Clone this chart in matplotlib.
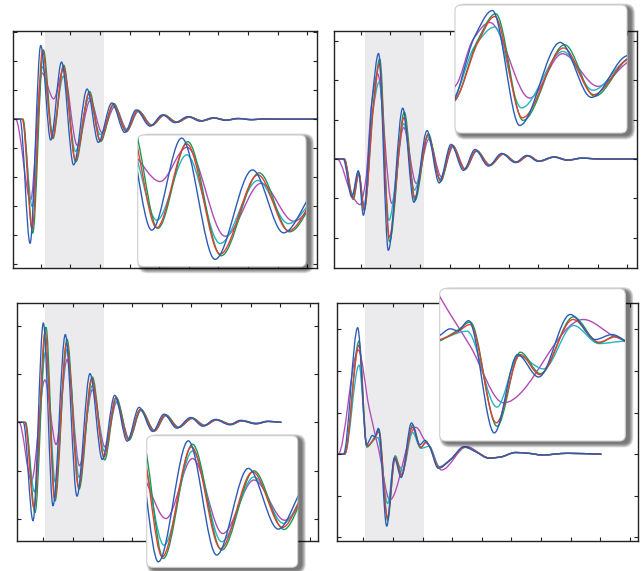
import numpy as np
import matplotlib
matplotlib.use("Agg")
import matplotlib.pyplot as plt
from matplotlib.path import Path
from matplotlib.patches import PathPatch, FancyBboxPatch
from matplotlib.transforms import IdentityTransform

# ---------------- data ----------------
# Panel 1 (top left)
P1_BLUE_X = [0.07, 0.30, 0.64, 1.00, 1.337, 1.703, 2.11, 2.567, 2.946, 3.40, 3.84, 4.22, 4.69, 5.11, 5.53, 5.97, 6.38, 6.81, 7.22, 7.65, 8.10, 8.55, 9.0, 10.35]
P1_BLUE_Y = [0, 0, -4.28, 2.54, -0.72, 1.97, -1.575, 1.04, -0.80, 0.56, -0.46, 0.32, -0.24, 0.15, -0.12, 0.09, -0.07, 0.05, -0.04, 0.03, -0.02, 0.01, 0, 0]
P1_GREEN_X = [0.07, 0.40, 0.73, 1.09, 1.41, 1.777, 2.184, 2.649, 3.02, 3.47, 3.90, 4.28, 4.75, 5.17, 5.60, 6.03, 6.45, 6.87, 7.28, 7.70, 8.15, 8.60, 9.05, 10.35]
P1_GREEN_Y = [0, 0, -3.93, 2.39, -0.67, 1.865, -1.47, 0.954, -0.77, 0.54, -0.43, 0.31, -0.22, 0.15, -0.11, 0.08, -0.06, 0.04, -0.03, 0.02, -0.015, 0.01, 0, 0]
P1_RED_X = [0.07, 0.38, 0.71, 1.06, 1.398, 1.765, 2.172, 2.633, 3.007, 3.45, 3.88, 4.27, 4.73, 5.15, 5.58, 6.01, 6.43, 6.85, 7.26, 7.68, 8.13, 8.58, 9.05, 10.35]
P1_RED_Y = [0, 0, -3.79, 2.37, -0.65, 1.80, -1.42, 0.896, -0.74, 0.52, -0.42, 0.30, -0.22, 0.14, -0.11, 0.08, -0.06, 0.04, -0.03, 0.02, -0.015, 0.01, 0, 0]
P1_CYAN_X = [0.07, 0.38, 0.71, 1.06, 1.398, 1.765, 2.172, 2.633, 3.007, 3.45, 3.88, 4.27, 4.73, 5.15, 5.58, 6.01, 6.43, 6.85, 7.26, 7.68, 8.13, 8.58, 9.05, 10.35]
P1_CYAN_Y = [0, 0, -3.01, 1.81, -0.43, 1.48, -1.11, 0.73, -0.53, 0.45, -0.37, 0.27, -0.20, 0.13, -0.10, 0.07, -0.05, 0.04, -0.03, 0.02, -0.015, 0.01, 0, 0]
P1_PURPLE_X = [0.07, 0.15, 0.66, 1.03, 1.439, 1.765, 2.233, 2.673, 3.069, 3.50, 3.92, 4.30, 4.76, 5.17, 5.60, 6.03, 6.45, 6.87, 7.28, 7.70, 8.15, 8.60, 9.05, 10.35]
P1_PURPLE_Y = [0, 0, -2.78, 1.60, 0.70, 1.70, -0.90, 0.65, -0.46, 0.43, -0.36, 0.27, -0.20, 0.13, -0.10, 0.07, -0.05, 0.04, -0.03, 0.02, -0.015, 0.01, 0, 0]

# Panel 2 (top right)
P2_BLUE_X = [0.09, 0.41, 0.70, 0.92, 1.09, 1.39, 1.603, 1.932, 2.42, 2.796, 3.24, 3.65, 4.05, 4.47, 4.86, 5.31, 5.76, 6.21, 6.61, 6.98, 7.50, 7.95, 8.45, 9.0, 10.35]
P2_BLUE_Y = [0, 0, -0.97, -0.30, -1.43, 1.55, 2.68, -2.32, 1.29, -1.10, 0.72, -0.61, 0.37, -0.29, 0.24, -0.18, 0.14, -0.09, 0.09, -0.06, 0.05, -0.03, 0.02, 0, 0]
P2_GREEN_X = [0.09, 0.45, 0.75, 0.94, 1.12, 1.43, 1.643, 1.972, 2.474, 2.836, 3.28, 3.70, 4.10, 4.52, 4.91, 5.36, 5.81, 6.26, 6.66, 7.03, 7.55, 8.00, 8.50, 9.05, 10.35]
P2_GREEN_Y = [0, 0, -1.03, -0.36, -1.31, 1.41, 2.54, -2.10, 1.19, -1.05, 0.64, -0.57, 0.35, -0.27, 0.22, -0.17, 0.13, -0.09, 0.08, -0.06, 0.05, -0.03, 0.02, 0, 0]
P2_RED_X = [0.09, 0.44, 0.74, 0.94, 1.12, 1.43, 1.631, 1.964, 2.462, 2.824, 3.27, 3.69, 4.09, 4.51, 4.90, 5.35, 5.80, 6.25, 6.65, 7.02, 7.54, 7.99, 8.49, 9.05, 10.35]
P2_RED_Y = [0, 0, -1.00, -0.38, -1.28, 1.30, 2.42, -1.99, 1.05, -0.98, 0.60, -0.54, 0.34, -0.26, 0.21, -0.16, 0.12, -0.09, 0.08, -0.06, 0.05, -0.03, 0.02, 0, 0]
P2_CYAN_X = [0.09, 0.43, 0.72, 0.93, 1.11, 1.39, 1.631, 1.952, 2.454, 2.816, 3.26, 3.68, 4.08, 4.50, 4.89, 5.34, 5.79, 6.24, 6.64, 7.01, 7.53, 7.98, 8.48, 9.05, 10.35]
P2_CYAN_Y = [0, 0, -0.90, -0.35, -1.18, 1.12, 1.96, -1.56, 0.90, -0.79, 0.55, -0.50, 0.33, -0.25, 0.20, -0.15, 0.12, -0.08, 0.08, -0.06, 0.05, -0.03, 0.02, 0, 0]
P2_PURPLE_X = [0.09, 0.20, 0.72, 0.98, 1.169, 1.37, 1.571, 2.053, 2.446, 2.876, 3.30, 3.72, 4.12, 4.53, 4.92, 5.37, 5.82, 6.27, 6.67, 7.04, 7.56, 8.01, 8.51, 9.05, 10.35]
P2_PURPLE_Y = [0, 0, -0.95, -1.16, -0.55, 1.41, 2.16, -1.13, 0.80, -0.62, 0.50, -0.45, 0.31, -0.25, 0.20, -0.15, 0.12, -0.08, 0.08, -0.06, 0.05, -0.03, 0.02, 0, 0]

# Panel 3 (bottom left)
P3_BLUE_X = [0.10, 0.325, 0.651, 1.00, 1.326, 1.742, 2.135, 2.574, 2.99, 3.41, 3.83, 4.23, 4.69, 5.07, 5.50, 5.97, 6.38, 6.79, 7.28, 7.64, 8.15, 8.54, 9.02]
P3_BLUE_Y = [0, 0, -2.04, 2.06, -1.73, 1.82, -1.53, 1.01, -0.77, 0.56, -0.39, 0.31, -0.19, 0.17, -0.12, 0.10, -0.08, 0.06, -0.05, 0.04, -0.03, 0.02, 0]
P3_GREEN_X = [0.10, 0.40, 0.72, 1.09, 1.395, 1.80, 2.205, 2.653, 3.069, 3.46, 3.89, 4.29, 4.75, 5.13, 5.56, 6.03, 6.44, 6.85, 7.34, 7.70, 8.21, 8.60, 9.02]
P3_GREEN_Y = [0, 0, -1.87, 1.97, -1.63, 1.72, -1.385, 0.94, -0.78, 0.52, -0.37, 0.27, -0.18, 0.16, -0.11, 0.09, -0.07, 0.06, -0.05, 0.04, -0.03, 0.02, 0]
P3_RED_X = [0.10, 0.38, 0.685, 1.06, 1.381, 1.787, 2.19, 2.635, 3.05, 3.44, 3.87, 4.27, 4.73, 5.11, 5.54, 6.01, 6.42, 6.83, 7.32, 7.68, 8.19, 8.58, 9.02]
P3_RED_Y = [0, 0, -1.78, 1.88, -1.58, 1.64, -1.34, 0.91, -0.72, 0.50, -0.36, 0.27, -0.18, 0.15, -0.11, 0.09, -0.07, 0.05, -0.04, 0.03, -0.03, 0.02, 0]
P3_CYAN_X = [0.10, 0.38, 0.70, 1.075, 1.404, 1.80, 2.205, 2.653, 3.06, 3.44, 3.87, 4.27, 4.73, 5.11, 5.54, 6.01, 6.42, 6.83, 7.32, 7.68, 8.19, 8.58, 9.02]
P3_CYAN_Y = [0, 0, -1.44, 1.46, -1.24, 1.52, -1.14, 0.76, -0.60, 0.44, -0.33, 0.25, -0.17, 0.14, -0.10, 0.08, -0.06, 0.05, -0.04, 0.03, -0.02, 0.02, 0]
P3_PURPLE_X = [0.10, 0.18, 0.60, 1.05, 1.432, 1.80, 2.22, 2.653, 3.08, 3.48, 3.90, 4.30, 4.76, 5.14, 5.57, 6.04, 6.45, 6.86, 7.35, 7.71, 8.22, 8.61, 9.02]
P3_PURPLE_Y = [0, 0, -1.21, 0.88, -0.46, 1.30, -0.90, 0.67, -0.51, 0.42, -0.34, 0.25, -0.17, 0.14, -0.10, 0.08, -0.06, 0.05, -0.04, 0.03, -0.02, 0.02, 0]

# Panel 4 (bottom right)
P4_BLUE_X = [0.12, 0.33, 0.81, 1.11, 1.19, 1.307, 1.387, 1.508, 1.79, 2.046, 2.277, 2.625, 2.90, 3.083, 3.23, 3.53, 3.93, 4.40, 4.81, 5.22, 5.61, 6.12, 6.57, 7.02, 7.86, 9.02]
P4_BLUE_Y = [0, 0, 3.04, 0.22, 0.31, 0.45, 0.41, 0.62, -1.73, -0.09, -0.56, 0.75, 0.225, 0.33, 0.19, -0.34, -0.14, 0.18, 0.05, -0.10, -0.07, 0.04, 0.02, -0.02, 0.02, 0]
P4_GREEN_X = [0.12, 0.37, 0.855, 1.12, 1.38, 1.526, 1.82, 2.076, 2.296, 2.66, 2.94, 3.12, 3.23, 3.56, 3.95, 4.42, 4.83, 5.24, 5.63, 6.14, 6.59, 7.04, 7.88, 9.02]
P4_GREEN_Y = [0, 0, 2.72, 0.17, 0.41, 0.59, -1.59, -0.04, -0.49, 0.70, 0.155, 0.30, 0.19, -0.32, -0.13, 0.17, 0.05, -0.09, -0.07, 0.04, 0.02, -0.02, 0.02, 0]
P4_RED_X = [0.12, 0.37, 0.855, 1.12, 1.38, 1.526, 1.812, 2.076, 2.29, 2.655, 2.94, 3.12, 3.23, 3.56, 3.95, 4.42, 4.83, 5.24, 5.63, 6.14, 6.59, 7.04, 7.88, 9.02]
P4_RED_Y = [0, 0, 2.62, 0.20, 0.38, 0.54, -1.52, -0.09, -0.51, 0.645, 0.17, 0.28, 0.20, -0.32, -0.13, 0.17, 0.05, -0.09, -0.07, 0.04, 0.02, -0.02, 0.02, 0]
P4_CYAN_X = [0.12, 0.37, 0.855, 1.12, 1.49, 1.82, 2.057, 2.33, 2.66, 2.94, 3.23, 3.56, 3.95, 4.42, 4.83, 5.24, 5.63, 6.14, 6.59, 7.04, 7.88, 9.02]
P4_CYAN_Y = [0, 0, 2.14, 0.20, 0.40, -1.19, -0.12, -0.39, 0.52, 0.14, 0.19, -0.30, -0.12, 0.16, 0.05, -0.09, -0.07, 0.04, 0.02, -0.02, 0.02, 0]
P4_PURPLE_X = [0.12, 0.15, 0.83, 1.19, 1.526, 1.893, 2.77, 3.10, 3.23, 3.64, 4.49, 5.24, 5.63, 6.14, 6.59, 7.04, 7.88, 9.02]
P4_PURPLE_Y = [0, 0, 2.50, 1.13, 0.085, -1.10, 0.645, 0.30, 0.19, -0.38, 0.18, -0.09, -0.07, 0.04, 0.02, -0.02, 0.02, 0]

X_TICKS = [1, 2, 3, 4, 5, 6, 7, 8, 9, 10]
P1_Y_TICKS = [-5, -4, -3, -2, -1, 0, 1, 2, 3]
P2_Y_TICKS = [-2, -1, 0, 1, 2, 3]
P3_Y_TICKS = [-2, -1, 0, 1, 2]
P4_Y_TICKS = [-2, -1, 0, 1, 2, 3]

# ---------------- styling / layout ----------------
W, H = 643, 571
COLORS = {"purple": "#b24ab6", "cyan": "#27b3c1", "green": "#179a55",
          "red": "#e2402c", "blue": "#2b5bb6"}
ORDER = ["purple", "cyan", "green", "red", "blue"]

fig = plt.figure(figsize=(W / 100, H / 100), dpi=100)
fig.patch.set_facecolor("white")


def mono_path(xs, ys):
    x = np.asarray(xs, float)
    y = np.asarray(ys, float)
    h = np.diff(x)
    d = np.diff(y) / h
    m = np.zeros_like(x)
    m[0] = d[0]
    m[-1] = d[-1]
    for i in range(1, len(x) - 1):
        if d[i - 1] * d[i] <= 0:
            m[i] = 0.0
        else:
            w1 = 2 * h[i] + h[i - 1]
            w2 = h[i] + 2 * h[i - 1]
            m[i] = (w1 + w2) / (w1 / d[i - 1] + w2 / d[i])
    verts = [(x[0], y[0])]
    codes = [Path.MOVETO]
    for i in range(len(x) - 1):
        verts += [(x[i] + h[i] / 3, y[i] + m[i] * h[i] / 3),
                  (x[i + 1] - h[i] / 3, y[i + 1] - m[i + 1] * h[i] / 3),
                  (x[i + 1], y[i + 1])]
        codes += [Path.CURVE4] * 3
    return Path(verts, codes)


def px_rect(l, t, r, b):
    return [l / W, 1 - b / H, (r - l) / W, (b - t) / H]


def draw_curves(ax, series, clip=None, lw=0.95):
    for name in ORDER:
        xs, ys = series[name]
        pp = PathPatch(mono_path(xs, ys), fill=False, edgecolor=COLORS[name],
                       lw=lw, capstyle="round", joinstyle="round")
        ax.add_patch(pp)
        if clip is not None:
            pp.set_clip_path(clip)


panels = [
    dict(rect=(13.3, 31, 316.7, 268), xlim=(0.074, 10.32), ylim=(-5.13, 3.04),
         yticks=P1_Y_TICKS, shade=(1.145, 3.15),
         series={"blue": (P1_BLUE_X, P1_BLUE_Y), "green": (P1_GREEN_X, P1_GREEN_Y),
                 "red": (P1_RED_X, P1_RED_Y), "cyan": (P1_CYAN_X, P1_CYAN_Y),
                 "purple": (P1_PURPLE_X, P1_PURPLE_Y)},
         inset=(137.7, 135, 306, 266.7), ixlim=(1.166, 3.22), iylim=(-1.79, 2.06)),
    dict(rect=(334, 31, 636.7, 268), xlim=(0.098, 10.32), ylim=(-2.77, 3.25),
         yticks=P2_Y_TICKS, shade=(1.145, 3.14),
         series={"blue": (P2_BLUE_X, P2_BLUE_Y), "green": (P2_GREEN_X, P2_GREEN_Y),
                 "red": (P2_RED_X, P2_RED_Y), "cyan": (P2_CYAN_X, P2_CYAN_Y),
                 "purple": (P2_PURPLE_X, P2_PURPLE_Y)},
         inset=(455, 5, 627, 133), ixlim=(1.153, 3.225), iylim=(-2.65, 2.92)),
    dict(rect=(16.7, 302.7, 318.3, 541), xlim=(0.101, 10.28), ylim=(-2.46, 2.48),
         yticks=P3_Y_TICKS, shade=(1.056, 3.05),
         series={"blue": (P3_BLUE_X, P3_BLUE_Y), "green": (P3_GREEN_X, P3_GREEN_Y),
                 "red": (P3_RED_X, P3_RED_Y), "cyan": (P3_CYAN_X, P3_CYAN_Y),
                 "purple": (P3_PURPLE_X, P3_PURPLE_Y)},
         inset=(146.7, 435.7, 297.7, 567.3), ixlim=(1.165, 3.26), iylim=(-1.89, 1.97)),
    dict(rect=(337.3, 302.7, 638, 540.7), xlim=(0.121, 10.27), ylim=(-2.08, 3.64),
         yticks=P4_Y_TICKS, shade=(1.056, 3.05),
         series={"blue": (P4_BLUE_X, P4_BLUE_Y), "green": (P4_GREEN_X, P4_GREEN_Y),
                 "red": (P4_RED_X, P4_RED_Y), "cyan": (P4_CYAN_X, P4_CYAN_Y),
                 "purple": (P4_PURPLE_X, P4_PURPLE_Y)},
         inset=(439.7, 288.7, 625.3, 441), ixlim=(1.19, 3.23), iylim=(-1.90, 1.29)),
]

for p in panels:
    ax = fig.add_axes(px_rect(*p["rect"]))
    ax.set_zorder(0)
    ax.set_xlim(*p["xlim"])
    ax.set_ylim(*p["ylim"])
    ax.set_xticks(X_TICKS)
    ax.set_yticks(p["yticks"])
    ax.tick_params(direction="in", length=3.2, width=0.8, color="#222222",
                   top=True, right=True, labelbottom=False, labelleft=False)
    for s in ax.spines.values():
        s.set_color("#222222")
        s.set_linewidth(1.0)
    ax.axvspan(*p["shade"], color="#ebebee", lw=0, zorder=0)
    draw_curves(ax, p["series"])

    # inset box with drop shadow (figure pixel coordinates)
    l, t, r, b = p["inset"]
    tr = IdentityTransform()
    for k in range(8):
        pad = 0.3 + k * 0.55
        sh = FancyBboxPatch((l + 4.0 - pad, H - b - 2.5 - pad),
                            (r - l) + 2 * pad, (b - t) + 2 * pad,
                            boxstyle="round,pad=0,rounding_size=%f" % (6 + pad),
                            transform=tr, facecolor="#000000", edgecolor="none",
                            alpha=0.085, zorder=1)
        fig.add_artist(sh)
    box = FancyBboxPatch((l, H - b), r - l, b - t,
                         boxstyle="round,pad=0,rounding_size=6",
                         transform=tr, facecolor="white", edgecolor="#cfcfcf",
                         lw=0.8, zorder=1.5)
    fig.add_artist(box)
    iax = fig.add_axes(px_rect(l, t, r, b))
    iax.set_zorder(2)
    iax.set_xlim(*p["ixlim"])
    iax.set_ylim(*p["iylim"])
    iax.set_axis_off()
    draw_curves(iax, p["series"], clip=box, lw=1.0)

fig.savefig("out.png", dpi=100, facecolor="white")
